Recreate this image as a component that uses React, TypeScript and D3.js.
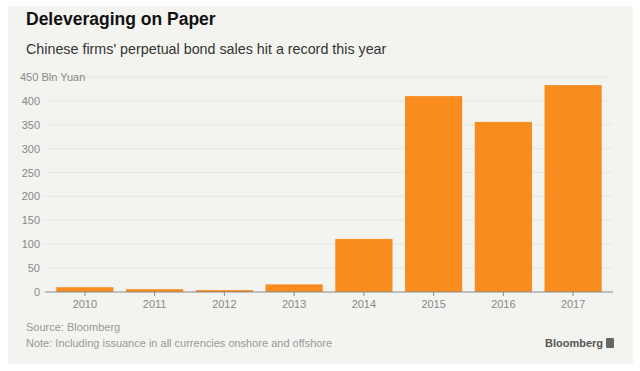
import React from "react";
import * as d3 from "d3";

const years = ["2010", "2011", "2012", "2013", "2014", "2015", "2016", "2017"];
const sales = [10, 6, 4, 16, 111, 410, 356, 433];
const yTicks = [0, 50, 100, 150, 200, 250, 300, 350, 400, 450];

const W = 640;
const H = 371;
const FONT = "'Liberation Sans', Arial, Helvetica, sans-serif";

export default function App() {
  const x = d3.scaleBand<string>().domain(years).range([50, 608]).paddingInner(0.18).paddingOuter(0.09);
  const y = d3.scaleLinear().domain([0, 450]).range([292, 77]);
  return (
    <svg width={W} height={H} style={{ position: "absolute", left: 0, top: 0 }} fontFamily={FONT}>
      <rect x={0} y={0} width={W} height={H} fill="#ffffff" />
      <rect x={8} y={6} width={625} height={358} fill="#f3f3f0" />
      <text x={26} y={25} fontSize={17.5} fontWeight="bold" fill="#111">Deleveraging on Paper</text>
      <text x={26} y={54} fontSize={14.3} fill="#333">Chinese firms' perpetual bond sales hit a record this year</text>
      {yTicks.map((t) => (
        <g key={t}>
          {t > 0 && <line x1={45} x2={612} y1={y(t)} y2={y(t)} stroke="#e6e6e2" strokeWidth={1} />}
          <text x={t === 450 ? 20 : 40} y={y(t) + 4} fontSize={11} fill="#888" textAnchor={t === 450 ? "start" : "end"}>
            {t === 450 ? "450 Bln Yuan" : t}
          </text>
        </g>
      ))}
      {years.map((yr, i) => (
        <rect key={yr} x={x(yr)} y={y(sales[i])} width={x.bandwidth()} height={y(0) - y(sales[i])} fill="#f88c1f" />
      ))}
      <line x1={45} x2={613} y1={y(0)} y2={y(0)} stroke="#8a8a8a" strokeWidth={1} />
      {years.map((yr) => {
        const cx = (x(yr) as number) + x.bandwidth() / 2;
        return (
          <g key={yr}>
            <line x1={cx} x2={cx} y1={y(0)} y2={y(0) + 4} stroke="#8a8a8a" />
            <text x={cx} y={308} fontSize={11} fill="#888" textAnchor="middle">{yr}</text>
          </g>
        );
      })}
      <text x={26} y={331} fontSize={11} fill="#999">Source: Bloomberg</text>
      <text x={26} y={347} fontSize={11} fill="#999">Note: Including issuance in all currencies onshore and offshore</text>
      <text x={545} y={347} fontSize={11} fontWeight="bold" fill="#555">Bloomberg</text>
      <rect x={606} y={338} width={8} height={10} rx={1} fill="#666" />
    </svg>
  );
}
